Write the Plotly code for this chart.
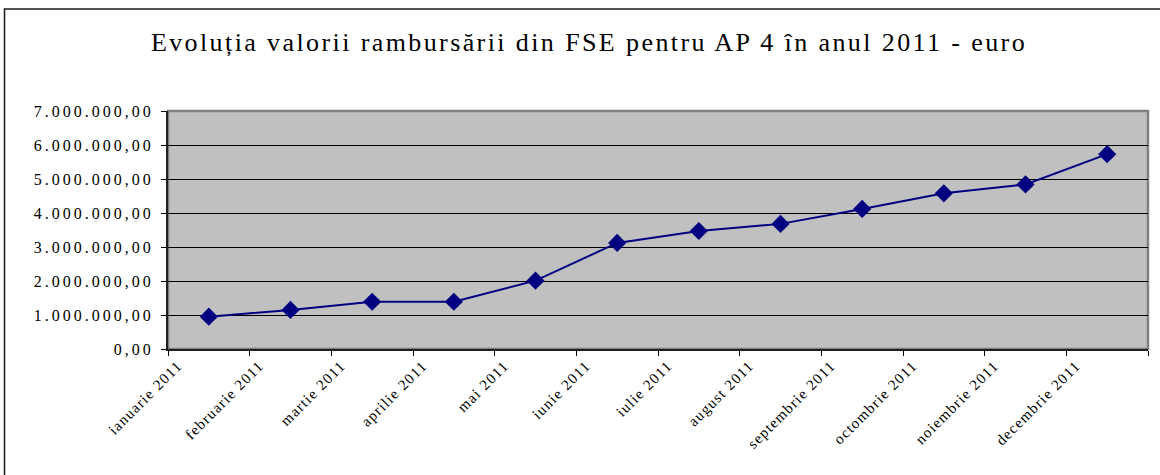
import plotly.graph_objects as go

# Monthly reimbursement values (euro)
months = ["ianuarie 2011", "februarie 2011", "martie 2011", "aprilie 2011",
          "mai 2011", "iunie 2011", "iulie 2011", "august 2011",
          "septembrie 2011", "octombrie 2011", "noiembrie 2011", "decembrie 2011"]
values = [950000, 1150000, 1390000, 1390000, 2010000, 3120000,
          3470000, 3680000, 4120000, 4580000, 4840000, 5730000]
y_ticks = [0, 1000000, 2000000, 3000000, 4000000, 5000000, 6000000, 7000000]

TITLE = "Evoluția valorii rambursării din FSE pentru AP 4 în anul 2011 - euro"
SERIF = "Liberation Serif, Times New Roman, serif"


def spaced(text, px):
    return f'<span style="letter-spacing:{px}px">{text}</span>'


def ro_number(v):
    s = f"{v:,.2f}"
    return s.replace(",", "X").replace(".", ",").replace("X", ".")


W, H = 1160, 475
L, R, T, B = 168, 12, 111, 126
pw, ph = W - L - R, H - T - B

x_pos = [i + 0.5 for i in range(len(months))]
label_pos = [i + 0.12 for i in range(len(months))]

fig = go.Figure()
fig.add_trace(go.Scatter(
    x=x_pos, y=values, mode="lines+markers",
    line=dict(color="#000080", width=2),
    marker=dict(symbol="diamond", size=14, color="#000080"),
    showlegend=False, hoverinfo="skip",
))

fig.update_layout(
    width=W, height=H,
    margin=dict(l=L, r=R, t=T, b=B),
    paper_bgcolor="white",
    plot_bgcolor="#c0c0c0",
    title=dict(text=spaced(TITLE, 2.4), xref="container", x=589 / W,
               xanchor="center", yref="container", y=1 - 42 / H, yanchor="middle",
               font=dict(family=SERIF, size=26, color="black")),
    xaxis=dict(
        range=[0, 12], fixedrange=True,
        tickmode="array", tickvals=label_pos,
        ticktext=[spaced(m, 1.2) for m in months],
        ticks="", tickangle=-45,
        tickfont=dict(family=SERIF, size=15, color="black"),
        showgrid=False, zeroline=False,
        showline=True, linecolor="#202020", linewidth=2,
        minor=dict(tickmode="array", tickvals=list(range(13)), ticks="outside",
                   ticklen=5, tickwidth=1, tickcolor="black", showgrid=False),
    ),
    yaxis=dict(
        range=[0, 7000000], fixedrange=True,
        tickmode="array", tickvals=y_ticks,
        ticktext=[spaced(ro_number(v), 3.0) for v in y_ticks],
        ticks="outside", ticklen=5, tickcolor="black",
        ticklabelstandoff=4,
        tickfont=dict(family=SERIF, size=16, color="black"),
        showgrid=True, gridcolor="black", gridwidth=1,
        zeroline=False,
        showline=True, linecolor="#202020", linewidth=2,
    ),
    shapes=[
        # grey frame around plot area (top and right edges)
        dict(type="rect", xref="paper", yref="paper", x0=0, x1=1, y0=0, y1=1,
             line=dict(color="#808080", width=2.5), layer="below"),
        # outer chart border
        dict(type="rect", xref="paper", yref="paper",
             x0=(4.5 - L) / pw, x1=(W + 10 - L) / pw,
             y0=(H - B - (H + 10)) / ph, y1=(H - B - 9) / ph,
             line=dict(color="#1a1a1a", width=1.5), layer="below"),
    ],
)

fig.write_html("out.html")
